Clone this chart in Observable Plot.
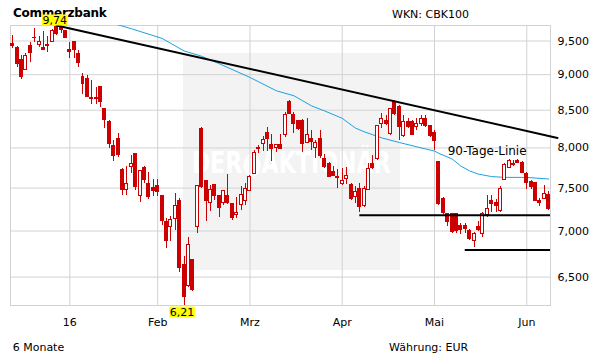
<!DOCTYPE html>
<html><head><meta charset="utf-8">
<script src="https://cdn.jsdelivr.net/npm/d3@7"></script>
<script src="https://cdn.jsdelivr.net/npm/@observablehq/plot@0.6"></script>
<style>
html,body{margin:0;padding:0;background:#fff;}
#wrap{position:relative;width:611px;height:364px;overflow:hidden;font-family:"DejaVu Sans",sans-serif;}
.t{position:absolute;white-space:nowrap;line-height:1;color:#000;font-size:11px;}
#wm{position:absolute;left:183px;top:53px;width:217px;height:217px;background:#f3f3f3;}
#wm svg{overflow:visible;}
#chart{position:absolute;left:0;top:0;}
</style></head><body>
<div id="wrap">
  <div id="wm"><svg width="217" height="217"><text x="8.7" y="119.7" fill="#ffffff" font-family="DejaVu Sans" font-weight="bold" font-size="30" textLength="199" lengthAdjust="spacingAndGlyphs">DER●AKTIONÄR</text></svg></div>
  <div class="t" style="left:13px;top:6.5px;font-weight:bold;font-size:12px;letter-spacing:-0.25px;">Commerzbank</div>
  <div class="t" style="left:392px;top:9px;">WKN: CBK100</div>
  <div class="t" style="left:12.7px;top:341.7px;">6 Monate</div>
  <div class="t" style="left:389px;top:341.7px;">Währung: EUR</div>
  <div id="chart"></div>
</div>
<script>
// Daily candles (EUR), Dec 2015 – Jun 2016, one entry per trading day
const opens = [9.45,9.40,9.22,9.07,9.42,9.55,9.44,9.40,9.44,9.49,
  9.71,9.70,9.66,9.36,9.49,9.31,8.96,8.94,8.67,8.67,
  8.82,8.52,8.34,8.02,8.12,7.72,7.48,7.76,7.92,7.41,
  7.75,7.55,7.50,7.52,7.41,7.10,7.05,7.14,7.35,6.63,
  6.41,6.68,7.04,8.25,7.58,7.32,7.54,7.40,7.32,7.40,
  7.31,7.18,7.30,7.34,7.47,7.67,8.00,8.05,8.20,8.04,
  8.00,8.04,8.17,8.61,8.43,8.36,8.36,8.06,8.11,8.00,
  8.12,7.86,7.79,7.70,7.64,7.55,7.61,7.54,7.39,7.49,
  7.29,7.48,7.79,7.86,8.32,8.35,8.18,8.61,8.54,8.16,
  8.34,8.34,8.27,8.32,8.38,8.29,8.19,7.82,7.37,7.19,
  7.19,7.19,7.06,7.06,7.00,6.89,7.04,6.97,7.18,7.35,
  7.32,7.23,7.60,7.75,7.80,7.83,7.81,7.67,7.57,7.56,
  7.35,7.37,7.42];
const highs = [9.58,9.41,9.28,9.31,9.48,9.69,9.57,9.65,9.57,9.67,
  9.74,9.73,9.66,9.48,9.49,9.35,9.01,8.99,8.92,8.82,
  8.82,8.52,8.36,8.10,8.19,7.74,7.76,7.90,7.92,7.71,
  7.76,7.69,7.61,7.61,7.41,7.14,7.16,7.43,7.37,6.72,
  6.93,6.68,7.53,8.27,7.59,7.53,7.54,7.40,7.47,7.66,
  7.31,7.39,7.52,7.56,7.65,7.97,8.03,8.15,8.27,8.17,
  8.04,8.17,8.47,8.63,8.47,8.36,8.37,8.39,8.23,8.10,
  8.23,7.92,7.81,7.76,7.73,7.74,7.75,7.55,7.52,7.55,
  7.52,7.80,7.90,8.29,8.45,8.43,8.52,8.63,8.56,8.43,
  8.39,8.36,8.39,8.43,8.43,8.30,8.23,7.83,7.39,7.20,
  7.20,7.20,7.08,7.09,7.02,6.98,7.11,7.21,7.41,7.41,
  7.36,7.52,7.80,7.85,7.84,7.85,7.83,7.69,7.59,7.57,
  7.37,7.53,7.46];
const lows = [9.39,9.10,8.93,9.06,9.18,9.48,9.40,9.36,9.32,9.48,
  9.58,9.61,9.55,9.23,9.23,9.10,8.72,8.67,8.58,8.58,
  8.54,8.25,7.99,7.83,7.88,7.41,7.41,7.68,7.47,7.33,
  7.55,7.36,7.40,7.40,7.06,6.81,6.88,7.01,6.55,6.21,
  6.39,6.35,6.97,7.49,7.11,7.22,7.35,7.15,7.29,7.30,
  7.12,7.14,7.23,7.29,7.47,7.67,7.93,7.95,7.95,7.83,
  7.94,7.98,8.14,8.45,8.19,8.23,7.94,8.06,7.97,7.86,
  7.86,7.74,7.63,7.65,7.50,7.53,7.54,7.35,7.32,7.21,
  7.27,7.48,7.73,7.84,8.25,8.29,8.16,8.43,8.10,8.13,
  8.25,8.16,8.23,8.28,8.27,8.13,7.97,7.29,7.19,7.05,
  6.97,6.97,6.96,6.97,6.89,6.82,6.99,6.93,7.15,7.21,
  7.21,7.21,7.59,7.75,7.76,7.80,7.69,7.48,7.48,7.34,
  7.28,7.36,7.24];
const closes = [9.43,9.15,8.97,9.28,9.32,9.54,9.48,9.37,9.43,9.66,
  9.61,9.67,9.55,9.34,9.36,9.17,8.86,8.68,8.65,8.65,
  8.61,8.37,8.05,7.90,7.91,7.48,7.55,7.80,7.51,7.71,
  7.60,7.39,7.46,7.45,7.11,6.89,7.13,7.29,6.60,6.30,
  6.84,6.37,7.53,7.51,7.34,7.48,7.40,7.26,7.47,7.32,
  7.15,7.21,7.42,7.49,7.63,7.94,7.98,8.10,8.12,7.98,
  8.04,7.99,8.44,8.45,8.32,8.25,8.05,8.17,8.08,8.07,
  7.90,7.76,7.64,7.65,7.62,7.58,7.65,7.37,7.45,7.27,
  7.49,7.73,7.75,8.29,8.38,8.31,8.52,8.45,8.27,8.34,
  8.27,8.17,8.32,8.38,8.29,8.16,8.09,7.31,7.20,7.10,
  6.99,7.00,7.01,7.02,6.91,6.97,7.01,7.19,7.25,7.31,
  7.29,7.49,7.78,7.83,7.78,7.81,7.69,7.56,7.51,7.34,
  7.32,7.43,7.25];

// 90-day moving average (read at trading-day indices)
const maIdx = [22,27,34,39,43,47,54,60,64,68,71,75,78,80,84,88,93,96,97,100,102,104,106,109,112,117,122];
const maVal = [9.79,9.69,9.54,9.35,9.27,9.16,8.96,8.77,8.70,8.56,8.49,8.39,8.26,8.21,8.13,8.07,8.00,7.96,7.93,7.86,7.77,7.71,7.67,7.64,7.63,7.63,7.61];

// Trend line (resistance) and support levels
const trendIdx = [10, 124];
const trendVal = [9.74, 8.13];
const supportLevels = [7.18, 6.79];
const supportStart = [79, 103];

// Axis ticks
const monthTickIdx = [13, 33, 54, 75, 96, 117];
const monthLabels = ["16", "Feb", "Mrz", "Apr", "Mai", "Jun"];
const yTicks = [6.5, 7.0, 7.5, 8.0, 8.5, 9.0, 9.5];

// Annotation
const maLabelText = "90-Tage-Linie";
const maLabelIdx = 99;
const maLabelVal = 7.96;

const red = "#cc0000";
const blue = "#1ba1e2";
const grid = "#d2d2d2";
const xMax = 122.4;

const candles = opens.map((o, i) => ({i, open: o, high: highs[i], low: lows[i], close: closes[i]}));
const ma = maIdx.map((i, k) => ({i, v: maVal[k]}));
const trend = trendIdx.map((i, k) => ({i, v: trendVal[k]}));
const comma = (d, n) => d3.format(`.${n}f`)(d).replace(".", ",");
const maxHigh = d3.max(highs), iMax = highs.indexOf(maxHigh);
const minLow = d3.min(lows), iMin = lows.indexOf(minLow);

const chart = Plot.plot({
  width: 611, height: 364,
  marginTop: 25, marginBottom: 59, marginLeft: 10, marginRight: 61,
  style: {background: "transparent", fontFamily: "DejaVu Sans", fontSize: "11px", color: "#000", overflow: "visible"},
  x: {domain: [-0.5, xMax], ticks: monthTickIdx, tickFormat: d => monthLabels[monthTickIdx.indexOf(d)], tickSize: 0, tickPadding: 13, label: null},
  y: {type: "log", domain: [6.21, 9.74], axis: "right", ticks: yTicks, tickFormat: d => comma(d, 3), tickSize: 0, tickPadding: 7, label: null},
  marks: [
    Plot.ruleY(yTicks, {stroke: grid, strokeWidth: 1}),
    Plot.ruleX(monthTickIdx, {stroke: grid, strokeWidth: 1}),
    Plot.frame({stroke: grid}),
    Plot.line(ma, {x: "i", y: "v", stroke: blue, strokeWidth: 1, clip: true}),
    Plot.ruleX(candles, {x: "i", y1: "low", y2: "high", stroke: red, strokeWidth: 1, shapeRendering: "crispEdges"}),
    Plot.rect(candles, {x1: d => d.i - 0.5, x2: d => d.i + 0.5, y1: "open", y2: "close",
      insetLeft: 0.7, insetRight: 0.7,
      fill: d => d.close < d.open ? red : "#ffffff", stroke: red, strokeWidth: 1, shapeRendering: "crispEdges"}),
    Plot.line(trend, {x: "i", y: "v", stroke: "#000", strokeWidth: 2}),
    Plot.ruleY(supportLevels, {y: d => d, x1: (d, k) => supportStart[k], x2: () => xMax, stroke: "#000", strokeWidth: 2}),
    Plot.text([maLabelText], {x: () => maLabelIdx, y: () => maLabelVal, text: d => d, textAnchor: "start", fontSize: 12, fill: "#000"}),
    Plot.text([{i: iMax, v: maxHigh}], {x: "i", y: "v", text: d => comma(d.v, 2), dx: -2, dy: -5.5, fontSize: 11, fill: "#000", className: "hl"}),
    Plot.text([{i: iMin, v: minLow}], {x: "i", y: "v", text: d => comma(d.v, 2), dx: -2, dy: 6.5, fontSize: 11, fill: "#000", className: "hl"})
  ]
});
document.getElementById("chart").append(chart);

// yellow boxes behind the high/low labels
chart.querySelectorAll("g.hl text").forEach(t => {
  const b = t.getBBox();
  const r = document.createElementNS("http://www.w3.org/2000/svg", "rect");
  r.setAttribute("x", b.x - 0.5);
  r.setAttribute("y", b.y + b.height / 2 - 5.5);
  r.setAttribute("width", b.width + 1);
  r.setAttribute("height", 11);
  r.setAttribute("fill", "#ffff00");
  const tr = t.getAttribute("transform");
  if (tr) r.setAttribute("transform", tr);
  t.parentNode.insertBefore(r, t);
});
</script>
</body></html>
